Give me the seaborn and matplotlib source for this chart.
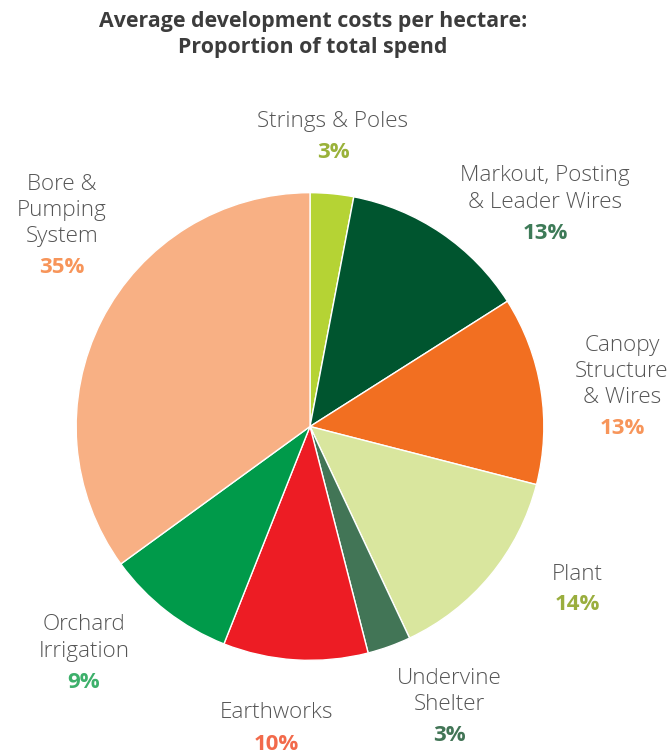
import matplotlib
matplotlib.use("Agg")
import matplotlib.pyplot as plt
import seaborn as sns

sns.set_theme(style="white")
plt.rcParams['font.family'] = ['Open Sans', 'DejaVu Sans']

# Data
categories = ["Strings & Poles", "Markout, Posting\n& Leader Wires", "Canopy\nStructure\n& Wires",
              "Plant", "Undervine\nShelter", "Earthworks", "Orchard\nIrrigation", "Bore &\nPumping\nSystem"]
values = [3, 13, 13, 14, 3, 10, 9, 35]
slice_colors = ["#B5D334", "#00552F", "#F26F21", "#D9E69E", "#427556", "#ED1C24", "#009A4A", "#F8B084"]
pct_colors = ["#9AB23A", "#3E7B58", "#F7955A", "#9AAE3E", "#427556", "#F26A4B", "#3DB06B", "#F7955A"]

# Layout (pixel positions of label blocks: x center, y of top line center)
W, H = 669, 753
label_pos = [(333, 122), (545, 176), (622, 345), (577, 574), (449, 678), (276, 713), (84, 625), (62, 184)]
line_h = 26.3
pct_gap = 31

fig = plt.figure(figsize=(W / 100, H / 100), dpi=100)
cx, cy, r = 310, 426.5, 235
ax = fig.add_axes([(cx - r) / W, (H - cy - r) / H, 2 * r / W, 2 * r / H])
ax.pie(values, colors=slice_colors, startangle=90, counterclock=False,
       wedgeprops=dict(edgecolor="white", linewidth=1.0), radius=1.0)
ax.set_xlim(-1.005, 1.005)
ax.set_ylim(-1.005, 1.005)
ax.set_aspect("equal")
ax.axis("off")

for cat, val, pc, (x, y) in zip(categories, values, pct_colors, label_pos):
    lines = cat.split("\n")
    for i, ln in enumerate(lines):
        fig.text(x / W, 1 - (y + i * line_h) / H, ln, ha="center", va="center",
                 fontsize=16.2, color="#555555", fontweight="light")
    yp = y + (len(lines) - 1) * line_h + pct_gap
    fig.text(x / W, 1 - yp / H, f"{val}%", ha="center", va="center",
             fontsize=16, color=pc, fontweight="bold")

fig.text(313 / W, 1 - 22 / H, "Average development costs per hectare:", ha="center", va="center",
         fontsize=15.4, color="#3C3C3C", fontweight="bold")
fig.text(313 / W, 1 - 48 / H, "Proportion of total spend", ha="center", va="center",
         fontsize=15.4, color="#3C3C3C", fontweight="bold")

fig.savefig("out.png", dpi=100, facecolor="white")
